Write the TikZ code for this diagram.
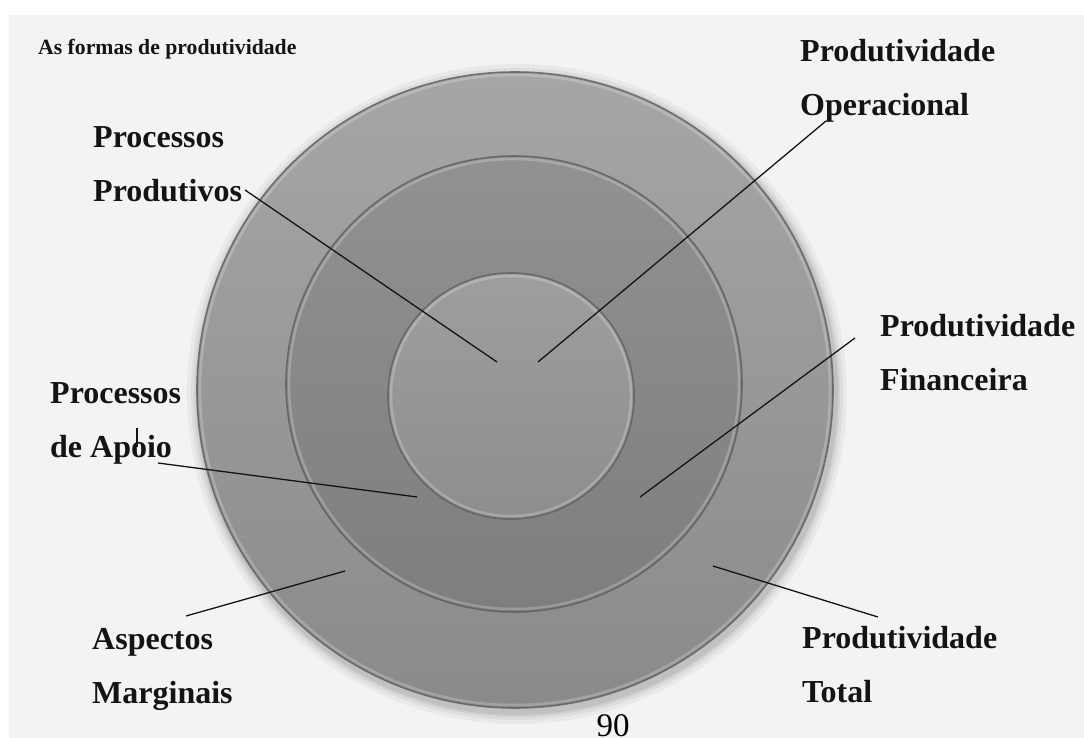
\documentclass[tikz,border=0pt]{standalone}
\usepackage{fontspec}
\setmainfont{Liberation Serif}
\definecolor{panel}{HTML}{F3F3F3}
\definecolor{outtop}{HTML}{A6A6A6}
\definecolor{outbot}{HTML}{8A8A8A}
\definecolor{midtop}{HTML}{919191}
\definecolor{midbot}{HTML}{7E7E7E}
\definecolor{intop}{HTML}{9E9E9E}
\definecolor{inbot}{HTML}{8E8E8E}
\definecolor{rim}{HTML}{5E5E5E}
\definecolor{ink}{HTML}{141414}
\begin{document}
\begin{tikzpicture}[x=1pt,y=-1pt,
  lbl/.style={font=\bfseries\fontsize{32}{54}\selectfont, anchor=base west, inner sep=0pt, align=left, text=ink},
  conn/.style={draw=ink, line width=1.3pt},
  disc/.style={circle, inner sep=0pt, draw=rim, draw opacity=0.8, line width=1.6pt},
  hilite/.style={draw=white, draw opacity=0.22, line width=2.5pt}]
\useasboundingbox (0,0) rectangle (1084,738);
\fill[white] (0,0) rectangle (1084,738);
\fill[panel] (9,15) rectangle (1084,738);
% soft shadow of the outer disc
\foreach \r/\o in {330/0.04,326/0.05,323/0.06,321/0.07}{
  \fill[black, opacity=\o] (517,394) circle[radius=\r];
}
% discs
\node[disc, minimum size=636pt, top color=outtop, bottom color=outbot] (outer) at (515,390) {};
\draw[hilite] (515,390) circle[radius=315];
\node[disc, minimum size=456pt, top color=midtop, bottom color=midbot] (middle) at (514,384) {};
\draw[hilite] (514,384) circle[radius=225];
\node[disc, minimum size=246pt, top color=intop, bottom color=inbot] (inner) at (511,396) {};
\draw[hilite] (511,396) circle[radius=120];
% title
\node[font=\bfseries\fontsize{21.7}{26}\selectfont, anchor=base west, inner sep=0pt, text=ink] (title) at (38,55) {As formas de produtividade};
% labels (anchored at the baseline of their last line)
\node[lbl] (lpo) at (800,116) {Produtividade\\Operacional};
\node[lbl] (lpp) at (93,202) {Processos\\Produtivos};
\node[lbl] (lpf) at (880,390) {Produtividade\\Financeira};
\node[lbl] (lpa) at (50,457) {Processos\\de Apoio};
\node[lbl] (lam) at (92,703) {Aspectos\\Marginais};
\node[lbl] (lpt) at (802,702) {Produtividade\\Total};
\node[font=\fontsize{33}{40}\selectfont, anchor=base, inner sep=0pt] (page) at (613,736) {90};
% connector end points
\coordinate (pps) at (245,190); \coordinate (ppe) at (497,362);
\coordinate (pos) at (826,121); \coordinate (poe) at (538,362);
\coordinate (pfs) at (855,338); \coordinate (pfe) at (640,497);
\coordinate (pas) at (158,463); \coordinate (pae) at (417,497);
\coordinate (tka) at (137,428); \coordinate (tkb) at (137,447);
\coordinate (ams) at (186,616); \coordinate (ame) at (345,571);
\coordinate (pts) at (878,617); \coordinate (pte) at (713,566);
% connectors
\draw[conn] (pps) -- (ppe);
\draw[conn] (pos) -- (poe);
\draw[conn] (pfs) -- (pfe);
\draw[conn] (pas) -- (pae);
\draw[conn] (tka) -- (tkb);
\draw[conn] (ams) -- (ame);
\draw[conn] (pts) -- (pte);
\end{tikzpicture}
\end{document}
